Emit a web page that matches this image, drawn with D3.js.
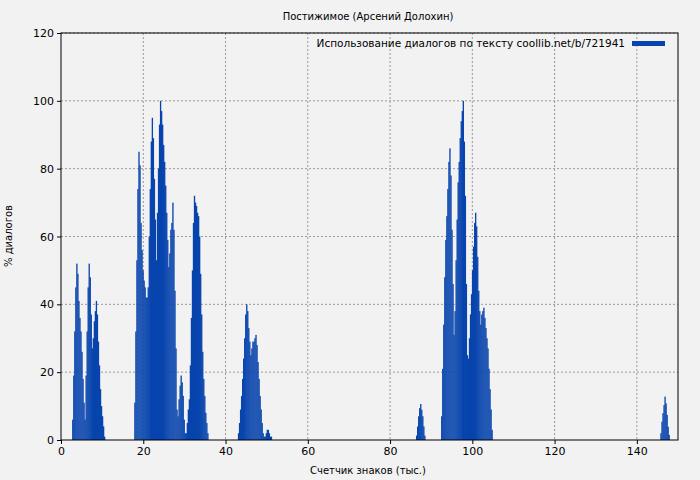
<!DOCTYPE html>
<html>
<head>
<meta charset="utf-8">
<script src="https://cdn.jsdelivr.net/npm/d3@7"></script>
<style>
body { margin: 0; background: #f2f2f2; }
text { font-family: "DejaVu Sans", sans-serif; }
</style>
</head>
<body>
<svg id="chart" width="700" height="480"></svg>
<script>
var step = 0.25;
// each cluster: start x (thousands of chars) and percent values, one every 0.25
var clusterStarts = [2.7, 17.8, 43.0, 86.3, 92.4, 145.7];
var clusterValues = [
    [6,19,32,45,52,49,41,36,32,26,18,11,6,19,32,45,52,48,37,27,30,35,38,41,37,29,22,15,10,7,4,1],
    [11,32,53,74,85,81,64,56,50,47,45,42,42,45,60,74,88,95,89,77,65,53,67,80,93,100,97,93,87,82,75,67,59,51,55,62,64,70,62,44,27,9,7,12,16,19,17,13,6,2,2,5,9,12,22,36,50,64,72,70,69,67,66,60,49,37,26,18,13,8,5,2],
    [2,5,9,13,18,24,30,37,40,38,33,29,25,27,29,29,30,31,28,23,18,13,9,5,2,1,1,2,3,3,2,1,1],
    [1.3,4,7,9.4,10.6,8.9,7,4,1.3],
    [7,21,34,48,59,66,74,82,86,78,62,46,31,38,53,65,76,82,89,94,97,100,88,72,46,25,24,30,37,43,50,57,64,67,63,54,44,38,34,37,38,39,36,33,30,27,21,15,9,3],
    [2,5.4,7.9,10.3,12.8,10.8,7.4,3.9,1.5]
];
var xTicks = [0, 20, 40, 60, 80, 100, 120, 140];
var yTicks = [0, 20, 40, 60, 80, 100, 120];
var titleText = "Постижимое (Арсений Долохин)";
var legendText = "Использование диалогов по тексту coollib.net/b/721941";
var barColor = "#0844ad";

var points = [];
clusterStarts.forEach(function (s, i) {
    clusterValues[i].forEach(function (v, j) {
        points.push({x: s + j * step, y: v});
    });
});

var svg = d3.select("#chart");
var pLeft = 61, pRight = 678, pTop = 33, pBottom = 440;
var x = d3.scaleLinear().domain([0, 150]).range([pLeft, pRight]);
var y = d3.scaleLinear().domain([0, 120]).range([pBottom, pTop]);

// grid
svg.append("g").selectAll("line").data(xTicks.slice(1)).enter().append("line")
    .attr("x1", function (d) { return x(d); }).attr("x2", function (d) { return x(d); })
    .attr("y1", pTop).attr("y2", pBottom)
    .attr("stroke", "#999").attr("stroke-dasharray", "2,2");
svg.append("g").selectAll("line").data(yTicks.slice(1)).enter().append("line")
    .attr("x1", pLeft).attr("x2", pRight)
    .attr("y1", function (d) { return y(d); }).attr("y2", function (d) { return y(d); })
    .attr("stroke", "#999").attr("stroke-dasharray", "2,2");

// bars
svg.append("g").selectAll("rect").data(points).enter().append("rect")
    .attr("x", function (d) { return x(d.x); })
    .attr("width", x(step) - x(0) + 0.3)
    .attr("y", function (d) { return y(d.y); })
    .attr("height", function (d) { return pBottom - y(d.y); })
    .attr("fill", barColor);

// frame
svg.append("rect").attr("x", pLeft).attr("y", pTop)
    .attr("width", pRight - pLeft).attr("height", pBottom - pTop)
    .attr("fill", "none").attr("stroke", "#000");

var xAxis = svg.append("g").attr("transform", "translate(0," + pBottom + ")")
    .call(d3.axisBottom(x).tickValues(xTicks).tickSize(4).tickSizeOuter(0));
var yAxis = svg.append("g").attr("transform", "translate(" + pLeft + ",0)")
    .call(d3.axisLeft(y).tickValues(yTicks).tickSize(4).tickSizeOuter(0));
[xAxis, yAxis].forEach(function (a) {
    a.select(".domain").remove();
    a.selectAll("text").attr("font-size", 11).attr("fill", "#000");
});

svg.append("text").attr("x", 368).attr("y", 20).attr("text-anchor", "middle")
    .attr("font-size", 10).text(titleText);
svg.append("text").attr("x", 368).attr("y", 474).attr("text-anchor", "middle")
    .attr("font-size", 10).text("Счетчик знаков (тыс.)");
svg.append("text").attr("transform", "translate(12,236) rotate(-90)")
    .attr("text-anchor", "middle").attr("font-size", 10).text("% диалогов");

svg.append("text").attr("x", 625).attr("y", 47).attr("text-anchor", "end")
    .attr("font-size", 10.5).text(legendText);
svg.append("rect").attr("x", 632).attr("y", 41).attr("width", 33).attr("height", 5)
    .attr("fill", barColor);
</script>
</body>
</html>
